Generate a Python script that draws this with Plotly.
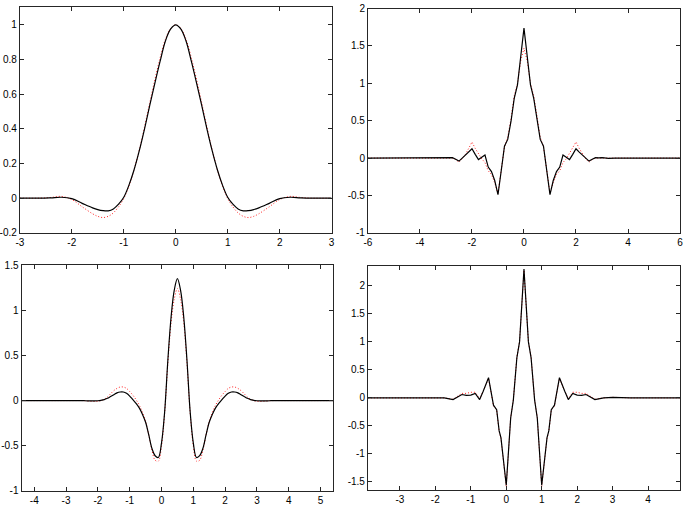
import plotly.graph_objects as go

# top left: scaling function (black) vs approximation (red dotted)
x1 = [-3.0, -2.6, -2.4, -2.2, -2.0, -1.8, -1.6, -1.5, -1.4, -1.3, -1.2, -1.1, -1.0, -0.9, -0.8,
      -0.7, -0.6, -0.5, -0.4, -0.3, -0.2, -0.1, 0.0, 0.1, 0.2, 0.3, 0.4, 0.5, 0.6, 0.7, 0.8, 0.9,
      1.0, 1.1, 1.2, 1.3, 1.4, 1.5, 1.6, 1.8, 2.0, 2.2, 2.4, 2.6, 3.0]
black1 = [0.0, 0.0, 0.002, 0.005, -0.003, -0.03, -0.056, -0.066, -0.072, -0.073, -0.062, -0.035,
          0.005, 0.075, 0.165, 0.275, 0.40, 0.535, 0.665, 0.79, 0.905, 0.975, 1.0, 0.975, 0.905,
          0.79, 0.665, 0.535, 0.40, 0.275, 0.165, 0.075, 0.005, -0.035, -0.062, -0.073, -0.072,
          -0.066, -0.056, -0.03, -0.003, 0.005, 0.002, 0.0, 0.0]
red1 = [0.0, 0.0, 0.004, 0.01, -0.008, -0.05, -0.09, -0.105, -0.112, -0.105, -0.085, -0.05,
        -0.002, 0.07, 0.165, 0.28, 0.41, 0.55, 0.685, 0.81, 0.915, 0.978, 1.0, 0.978, 0.915,
        0.81, 0.685, 0.55, 0.41, 0.28, 0.165, 0.07, -0.002, -0.05, -0.085, -0.105, -0.112,
        -0.105, -0.09, -0.05, -0.008, 0.01, 0.004, 0.0, 0.0]

# top right
x2 = [-6.0, -3.5, -3.25, -3.0, -2.875, -2.75, -2.625, -2.5, -2.375, -2.25, -2.125, -2.0, -1.875,
      -1.75, -1.625, -1.5, -1.375, -1.25, -1.125, -1.0, -0.875, -0.75, -0.625, -0.5, -0.375,
      -0.25, -0.125, 0.0, 0.125, 0.25, 0.375, 0.5, 0.625, 0.75, 0.875, 1.0, 1.125, 1.25, 1.375,
      1.5, 1.625, 1.75, 1.875, 2.0, 2.125, 2.25, 2.375, 2.5, 2.625, 2.75, 2.875, 3.0, 3.25, 3.5, 6.0]
black2 = [0.0, 0.0, -0.003, 0.005, 0.003, 0.005, -0.015, -0.04, 0.0, 0.04, 0.08, 0.125, 0.05,
          -0.02, 0.01, 0.04, -0.12, -0.18, -0.30, -0.49, -0.17, 0.16, 0.25, 0.49, 0.80, 0.98,
          1.36, 1.74, 1.36, 0.98, 0.80, 0.49, 0.25, 0.16, -0.17, -0.49, -0.30, -0.18, -0.12,
          0.04, 0.01, -0.02, 0.05, 0.125, 0.08, 0.04, 0.0, -0.04, -0.015, 0.005, 0.003, 0.005,
          -0.003, 0.0, 0.0]
red2 = [0.0, 0.0, -0.002, 0.002, 0.003, 0.0, -0.02, -0.055, -0.01, 0.05, 0.13, 0.215, 0.13,
        0.06, -0.01, -0.06, -0.17, -0.22, -0.33, -0.47, -0.18, 0.15, 0.28, 0.52, 0.83, 1.00,
        1.30, 1.47, 1.30, 1.00, 0.83, 0.52, 0.28, 0.15, -0.18, -0.47, -0.33, -0.22, -0.17,
        -0.06, -0.01, 0.06, 0.13, 0.215, 0.13, 0.05, -0.01, -0.055, -0.02, 0.0, 0.003, 0.002,
        -0.002, 0.0, 0.0]

# bottom left: wavelet
x3 = [-4.4, -3.5, -3.0, -2.5, -2.4, -2.3, -2.2, -2.1, -2.0, -1.9, -1.8, -1.7, -1.6, -1.5, -1.4,
      -1.3, -1.2, -1.1, -1.0, -0.9, -0.8, -0.7, -0.6, -0.5, -0.4, -0.3, -0.2, -0.1, 0.0, 0.1,
      0.2, 0.3, 0.4, 0.5, 0.6, 0.7, 0.8, 0.9, 1.0, 1.1, 1.2, 1.3, 1.4, 1.5, 1.6, 1.7, 1.8, 1.9,
      2.0, 2.1, 2.2, 2.3, 2.4, 2.5, 2.6, 2.7, 2.8, 2.9, 3.0, 3.1, 3.2, 3.3, 3.4, 3.5, 4.0, 4.5, 5.4]
black3 = [0.0, 0.0, 0.0, 0.0, -0.002, -0.003, -0.004, -0.004, -0.002, 0.003, 0.01, 0.025, 0.045,
          0.065, 0.085, 0.095, 0.095, 0.08, 0.05, 0.01, -0.03, -0.08, -0.15, -0.24, -0.38, -0.53,
          -0.61, -0.63, -0.47, -0.12, 0.45, 0.92, 1.22, 1.35, 1.22, 0.92, 0.45, -0.12, -0.47,
          -0.63, -0.61, -0.53, -0.38, -0.24, -0.15, -0.08, -0.03, 0.01, 0.05, 0.08, 0.095, 0.095,
          0.085, 0.065, 0.045, 0.025, 0.01, 0.003, -0.002, -0.004, -0.004, -0.003, -0.002, 0.0,
          0.0, 0.0, 0.0]
red3 = [0.0, 0.0, 0.0, 0.0, -0.002, -0.005, -0.008, -0.01, -0.008, 0.0, 0.015, 0.04, 0.075, 0.11,
        0.135, 0.15, 0.15, 0.135, 0.10, 0.06, 0.01, -0.05, -0.13, -0.23, -0.38, -0.55, -0.66,
        -0.67, -0.5, -0.13, 0.42, 0.86, 1.12, 1.24, 1.12, 0.86, 0.42, -0.13, -0.5, -0.67, -0.66,
        -0.55, -0.38, -0.23, -0.13, -0.05, 0.01, 0.06, 0.10, 0.135, 0.15, 0.15, 0.135, 0.11,
        0.075, 0.04, 0.015, 0.0, -0.008, -0.01, -0.008, -0.005, -0.002, 0.0, 0.0, 0.0, 0.0]

# bottom right
x4 = [-3.9, -2.5, -2.0, -1.75, -1.5, -1.25, -1.125, -1.0, -0.875, -0.75, -0.65, -0.5, -0.36,
      -0.27, -0.2, -0.15, 0.0, 0.125, 0.2, 0.3, 0.375, 0.5, 0.625, 0.7, 0.8, 0.875, 1.0, 1.15,
      1.2, 1.27, 1.36, 1.5, 1.65, 1.75, 1.875, 2.0, 2.125, 2.25, 2.5, 2.75, 3.0, 3.5, 4.9]
black4 = [0.0, 0.0, 0.01, 0.0, -0.03, 0.06, 0.045, 0.05, 0.08, -0.03, 0.12, 0.36, -0.13, -0.21,
          -0.59, -0.71, -1.56, -0.36, -0.04, 0.72, 1.0, 2.30, 1.0, 0.72, -0.04, -0.36, -1.56,
          -0.71, -0.59, -0.21, -0.13, 0.36, 0.12, -0.03, 0.08, 0.05, 0.045, 0.06, -0.03, 0.0,
          0.01, 0.0, 0.0]
red4 = [0.0, 0.0, 0.01, 0.0, -0.025, 0.08, 0.08, 0.1, 0.1, -0.02, 0.12, 0.35, -0.14, -0.22,
        -0.6, -0.72, -1.58, -0.35, -0.03, 0.73, 1.0, 2.28, 1.0, 0.73, -0.03, -0.35, -1.58,
        -0.72, -0.6, -0.22, -0.14, 0.35, 0.12, -0.02, 0.1, 0.1, 0.08, 0.08, -0.025, 0.0,
        0.01, 0.0, 0.0]

# tick labels (plain hyphen minus like the original)
xt1 = [-3, -2, -1, 0, 1, 2, 3]
yt1 = [-0.2, 0, 0.2, 0.4, 0.6, 0.8, 1]
xt2 = [-6, -4, -2, 0, 2, 4, 6]
yt2 = [-1, -0.5, 0, 0.5, 1, 1.5, 2]
xt3 = [-4, -3, -2, -1, 0, 1, 2, 3, 4, 5]
yt3 = [-1, -0.5, 0, 0.5, 1, 1.5]
xt4 = [-3, -2, -1, 0, 1, 2, 3, 4]
yt4 = [-1.5, -1, -0.5, 0, 0.5, 1, 1.5, 2]


def lbl(vals):
    return [('%g' % v) for v in vals]


fig = go.Figure()

panels = [
    (x1, black1, red1, 'spline'),
    (x2, black2, red2, 'linear'),
    (x3, black3, red3, 'spline'),
    (x4, black4, red4, 'linear'),
]
for i, (xs, b, r, shape) in enumerate(panels):
    n = '' if i == 0 else str(i + 1)
    fig.add_trace(go.Scatter(x=xs, y=r, mode='lines', xaxis='x' + n, yaxis='y' + n,
                             line=dict(color='#ff2020', width=1, dash='1px,2px', shape=shape)))
    fig.add_trace(go.Scatter(x=xs, y=b, mode='lines', xaxis='x' + n, yaxis='y' + n,
                             line=dict(color='#000000', width=1.2, shape=shape)))

axis_style = dict(
    showline=True, mirror='ticks', linecolor='#262626', linewidth=1,
    ticks='inside', ticklen=4, tickcolor='#262626', tickwidth=1,
    showgrid=False, zeroline=False,
    tickfont=dict(family='Liberation Sans, Arial, sans-serif', size=10, color='#000000'),
)

W, H = 685, 508
boxes = [
    # (left px, right px, top px, bottom px, xrange, yrange, xticks, yticks)
    (16, 331, 1.5, 232.3, [-3, 3], [-0.2, 1.1], xt1, yt1),
    (367.7, 683, 2.7, 232.3, [-6, 6], [-1, 2], xt2, yt2),
    (17.7, 332.7, 265.3, 496.7, [-4.4, 5.4], [-1, 1.5], xt3, yt3),
    (367.7, 683, 266, 496, [-3.9, 4.9], [-1.65, 2.36], xt4, yt4),
]
layout = {}
for i, (l, r, t, b, xr, yr, xt, yt) in enumerate(boxes):
    n = '' if i == 0 else str(i + 1)
    layout['xaxis' + n] = dict(axis_style, domain=[l / W, r / W], range=xr, anchor='y' + n,
                               tickvals=xt, ticktext=lbl(xt))
    layout['yaxis' + n] = dict(axis_style, domain=[1 - b / H, 1 - t / H], range=yr, anchor='x' + n,
                               tickvals=yt, ticktext=lbl(yt))

fig.update_layout(
    width=W, height=H,
    margin=dict(l=0, r=0, t=0, b=0),
    plot_bgcolor='white', paper_bgcolor='white',
    showlegend=False,
    **layout
)

# page has a default body margin; drop it so the figure sits at the window origin
fig.write_html("out.html", config={'displayModeBar': False},
               post_script="document.body.style.margin='0';document.body.style.overflow='hidden';")
